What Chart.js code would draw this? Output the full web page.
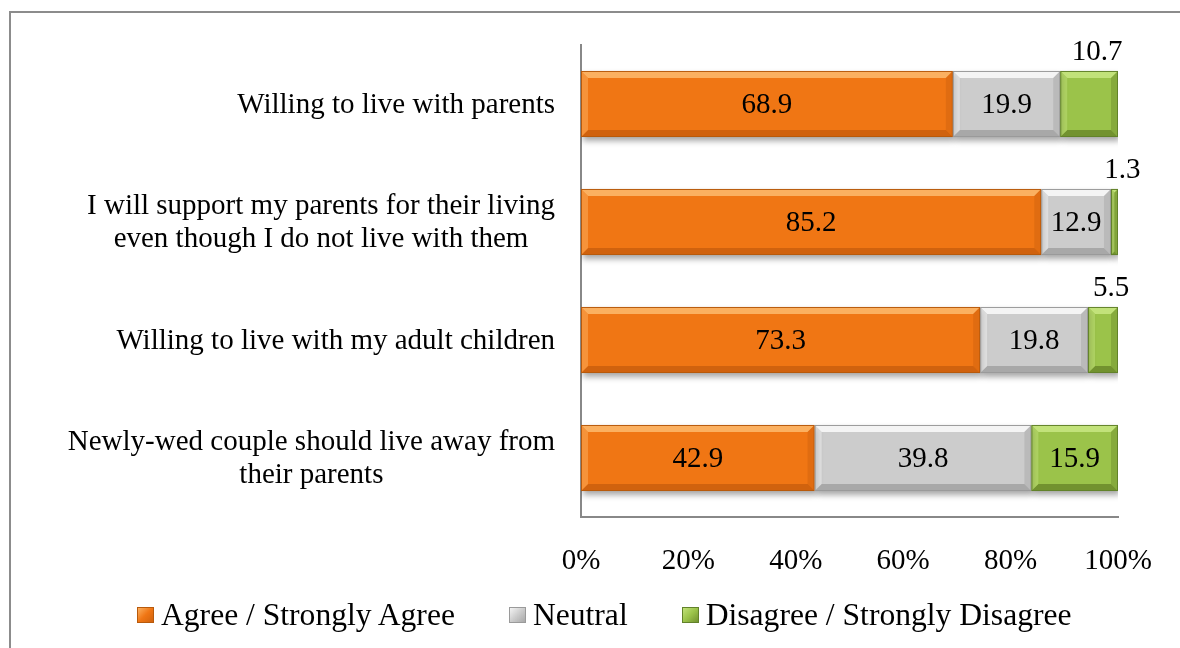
<!DOCTYPE html>
<html>
<head>
<meta charset="utf-8">
<script src="https://cdn.jsdelivr.net/npm/chart.js@4.4.1/dist/chart.umd.min.js"></script>
<style>
    html, body { margin: 0; padding: 0; background: #fff; }
    #wrap { position: relative; width: 1180px; height: 648px; overflow: hidden; font-family: "Liberation Serif", "Times New Roman", serif; }
    #frame { position: absolute; left: 9px; top: 11px; width: 1300px; height: 800px; border-top: 2px solid #8c8c8c; border-left: 2px solid #8c8c8c; }
    #chart { position: absolute; left: 0; top: 0; }
    #legend { position: absolute; left: 137px; top: 597px; display: flex; align-items: center; font-size: 31.6px; color: #000; white-space: nowrap; }
    .item { display: flex; align-items: center; margin-right: 54px; }
    .swatch { width: 17px; height: 16px; margin-right: 7px; box-sizing: border-box; }
</style>
</head>
<body>
<div id="wrap">
    <div id="frame"></div>
    <canvas id="chart" width="1180" height="648"></canvas>
    <div id="legend"></div>
</div>
<script>
// Categories (each entry = lines of the label)
const categories = [
    ['Willing to live with parents'],
    ['I will support my parents for their living', 'even though I do not live with them'],
    ['Willing to live with my adult children'],
    ['Newly-wed couple should live away from', 'their parents']
];

const seriesNames = ['Agree / Strongly Agree', 'Neutral', 'Disagree / Strongly Disagree'];
const agree = [68.9, 85.2, 73.3, 42.9];
const neutral = [19.9, 12.9, 19.8, 39.8];
const disagree = [10.7, 1.3, 5.5, 15.9];
const xTicks = [0, 20, 40, 60, 80, 100];

const fillColors = ['#F07614', '#CCCCCC', '#9BC34A'];
const edgeColors = ['#B85A0C', '#9A9A9A', '#62822A'];
const lightColors = ['#FBB060', '#F4F4F4', '#C2E27A'];
const darkColors = ['#D0620E', '#A8A8A8', '#72922F'];

const FONT = '"Liberation Serif", "Times New Roman", serif';
const TEXT_SIZE = 29;

// 100% stacked: each row is scaled to its own total
const rows = [agree, neutral, disagree];
const totals = agree.map((v, i) => agree[i] + neutral[i] + disagree[i]);

const datasets = rows.map((values, d) => ({
    label: seriesNames[d],
    data: values.map((v, i) => v / totals[i] * 100),
    raw: values,
    backgroundColor: fillColors[d],
    borderWidth: 0,
    categoryPercentage: 1,
    barPercentage: 0.56
}));

const bevelPlugin = {
    id: 'bevel',
    beforeDatasetsDraw(chart) {
        const ctx = chart.ctx;
        ctx.save();
        ctx.shadowColor = 'rgba(0,0,0,0.35)';
        ctx.shadowBlur = 6;
        ctx.shadowOffsetX = 2;
        ctx.shadowOffsetY = 4;
    },
    afterDatasetsDraw(chart) {
        const ctx = chart.ctx;
        ctx.restore();

        function poly(pts, fill) {
            ctx.beginPath();
            ctx.moveTo(pts[0][0], pts[0][1]);
            for (let k = 1; k < pts.length; k++) ctx.lineTo(pts[k][0], pts[k][1]);
            ctx.closePath();
            ctx.fillStyle = fill;
            ctx.fill();
        }

        chart.data.datasets.forEach((ds, d) => {
            const meta = chart.getDatasetMeta(d);
            meta.data.forEach((el, i) => {
                const p = el.getProps(['x', 'y', 'base', 'height'], true);
                const L = Math.min(p.base, p.x), R = Math.max(p.base, p.x);
                const T = p.y - p.height / 2, B = p.y + p.height / 2;
                const b = Math.min(7, (R - L) / 2);

                ctx.save();
                poly([[L, T], [R, T], [R - b, T + b], [L + b, T + b]], lightColors[d]);
                poly([[L, B], [R, B], [R - b, B - b], [L + b, B - b]], darkColors[d]);
                ctx.globalAlpha = 0.5;
                poly([[L, T], [L + b, T + b], [L + b, B - b], [L, B]], lightColors[d]);
                poly([[R, T], [R - b, T + b], [R - b, B - b], [R, B]], darkColors[d]);
                ctx.globalAlpha = 1;
                ctx.strokeStyle = edgeColors[d];
                ctx.lineWidth = 1;
                ctx.strokeRect(L + 0.5, T + 0.5, R - L - 1, B - T - 1);
                ctx.restore();

                // value label: inside if it fits, above the bar otherwise
                ctx.save();
                ctx.font = TEXT_SIZE + 'px ' + FONT;
                ctx.fillStyle = '#000';
                ctx.textAlign = 'center';
                ctx.textBaseline = 'middle';
                const txt = ds.raw[i].toFixed(1);
                if (R - L < 62) {
                    ctx.fillText(txt, (L + R) / 2 + 8, T - 19);
                } else {
                    ctx.fillText(txt, (L + R) / 2, p.y + 1);
                }
                ctx.restore();
            });
        });
    },
    afterDraw(chart) {
        // category labels: block right-aligned, lines centred within block
        const ctx = chart.ctx;
        const yScale = chart.scales.y;
        ctx.save();
        ctx.font = TEXT_SIZE + 'px ' + FONT;
        ctx.fillStyle = '#000';
        ctx.textAlign = 'center';
        ctx.textBaseline = 'middle';
        const lineH = 33;
        const right = 555;
        categories.forEach((lines, i) => {
            const yc = yScale.getPixelForValue(i);
            const w = Math.max(...lines.map(s => ctx.measureText(s).width));
            const cx = right - w / 2;
            lines.forEach((s, k) => {
                ctx.fillText(s, cx, yc + (k - (lines.length - 1) / 2) * lineH + 1);
            });
        });
        ctx.restore();
    }
};

new Chart(document.getElementById('chart'), {
    type: 'bar',
    data: {
        labels: categories,
        datasets: datasets
    },
    options: {
        indexAxis: 'y',
        responsive: false,
        animation: false,
        devicePixelRatio: 1,
        layout: {
            padding: { top: 45, right: 62, bottom: 70, left: 0 }
        },
        plugins: {
            legend: { display: false },
            tooltip: { enabled: false }
        },
        scales: {
            x: {
                stacked: true,
                min: 0,
                max: 100,
                afterBuildTicks: scale => { scale.ticks = xTicks.map(v => ({ value: v })); },
                afterFit: scale => { scale.height = 61; },
                grid: { display: false, drawTicks: false },
                border: { display: true, color: '#888888', width: 2 },
                ticks: {
                    padding: 27,
                    color: '#000',
                    font: { family: FONT, size: TEXT_SIZE },
                    maxRotation: 0,
                    callback: v => v + '%'
                }
            },
            y: {
                stacked: true,
                afterFit: scale => { scale.width = 581; },
                grid: { display: false, drawTicks: false },
                border: { display: true, color: '#888888', width: 2 },
                ticks: { display: false }
            }
        }
    },
    plugins: [bevelPlugin]
});

// HTML legend
const legend = document.getElementById('legend');
seriesNames.forEach((name, d) => {
    const item = document.createElement('div');
    item.className = 'item';
    const sw = document.createElement('span');
    sw.className = 'swatch';
    sw.style.background = 'linear-gradient(135deg, ' + lightColors[d] + ', ' + fillColors[d] + ' 50%, ' + darkColors[d] + ')';
    sw.style.border = '1px solid ' + edgeColors[d];
    const label = document.createElement('span');
    label.textContent = name;
    item.appendChild(sw);
    item.appendChild(label);
    legend.appendChild(item);
});
</script>
</body>
</html>
